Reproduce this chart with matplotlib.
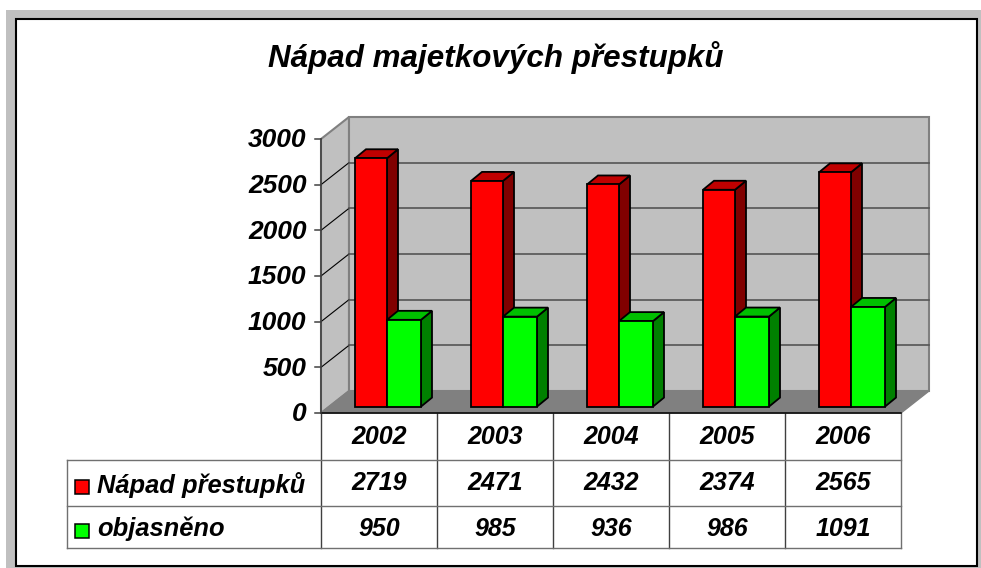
import numpy as np
import matplotlib
matplotlib.use("Agg")
import matplotlib.pyplot as plt
from matplotlib.patches import Polygon, Rectangle

roky = ["2002", "2003", "2004", "2005", "2006"]
napad = [2719, 2471, 2432, 2374, 2565]
objasneno = [950, 985, 936, 986, 1091]
osa_y = [0, 500, 1000, 1500, 2000, 2500, 3000]
nazvy = ["Nápad přestupků", "objasněno"]

W, H = 981, 568
plt.rcParams["font.family"] = ["Liberation Sans", "DejaVu Sans"]
plt.rcParams["font.weight"] = "bold"
plt.rcParams["font.style"] = "italic"

fig = plt.figure(figsize=(W / 100, H / 100), dpi=100, facecolor="white")

# pozadi v pixelech
bg = fig.add_axes([0, 0, 1, 1])
bg.set_xlim(0, W)
bg.set_ylim(H, 0)
bg.axis("off")
bg.add_patch(Rectangle((6, 10), 975, 570, fc="#c0c0c0", ec="none"))
bg.add_patch(Rectangle((16, 19), 960.5, 547, fc="white", ec="black", lw=1.5))

# predni rovina grafu: x 321-901, y 139-413 px
ax = fig.add_axes([321 / W, 1 - 413 / H, 580 / W, 274 / H])
ax.set_xlim(0, 5)
ax.set_ylim(0, 3000)
ax.axis("off")
ax.patch.set_alpha(0)

hl_x = 28 / 116   # hloubka podlahy
hl_y = 22 / 274 * 3000
grey_edge = "#808080"


def poly(pts, **kw):
    p = Polygon(pts, closed=True, clip_on=False, **kw)
    ax.add_patch(p)


poly([(0, 0), (hl_x, hl_y), (hl_x, 3000 + hl_y), (0, 3000)], fc="#c0c0c0", ec=grey_edge, lw=1.5, zorder=1)
poly([(hl_x, hl_y), (5 + hl_x, hl_y), (5 + hl_x, 3000 + hl_y), (hl_x, 3000 + hl_y)],
     fc="#c0c0c0", ec=grey_edge, lw=1.5, zorder=1)
poly([(0, 0), (5, 0), (5 + hl_x, hl_y), (hl_x, hl_y)], fc="#808080", ec=grey_edge, lw=1, zorder=2)

for v in osa_y[1:-1]:
    ax.plot([0, hl_x], [v, v + hl_y], color="black", lw=0.8, clip_on=False, zorder=3)
    ax.plot([hl_x, 5 + hl_x], [v + hl_y, v + hl_y], color="#555555", lw=1.2, clip_on=False, zorder=3)
ax.plot([0, 0], [0, 3000], color="#404040", lw=1.1, clip_on=False, zorder=4)
ax.plot([0, 5], [0, 0], color="black", lw=1.1, clip_on=False, zorder=4)
for v in osa_y:
    ax.plot([-6 / 116, 0], [v, v], color="#404040", lw=1.1, clip_on=False, zorder=4)
    ax.annotate(str(v), (0, v), xytext=(-10.5, -1), textcoords="offset points",
                ha="right", va="center", fontsize=19, zorder=5, annotation_clip=False)


def sloupec(x0, x1, val, c_front, c_top, c_side):
    # kvadr sloupce, posunuty do poloviny hloubky
    sx = 9 / 116
    sy = 6.4 / 274 * 3000
    dx = 11 / 116
    dy = 9 / 274 * 3000
    x0 += sx
    x1 += sx
    t = val + sy
    poly([(x1, sy), (x1 + dx, sy + dy), (x1 + dx, t + dy), (x1, t)], fc=c_side, ec="black", lw=1.3, zorder=6)
    poly([(x0, t), (x1, t), (x1 + dx, t + dy), (x0 + dx, t + dy)], fc=c_top, ec="black", lw=1.3, zorder=6)
    poly([(x0, sy), (x1, sy), (x1, t), (x0, t)], fc=c_front, ec="black", lw=1.3, zorder=6)


for i in range(len(roky)):
    sloupec(i + 25 / 116, i + 57 / 116, napad[i], "#ff0000", "#c00000", "#800000")
    sloupec(i + 57 / 116, i + 91 / 116, objasneno[i], "#00ff00", "#00c000", "#008000")

# titulek
bg.text(495.5, 58, "Nápad majetkových přestupků", ha="center", va="center", fontsize=22.6)

# tabulka
sloupce = [321 + 116 * i for i in range(6)]
radky = [413, 460, 506, 548]
tc = "#707070"
for x in sloupce:
    bg.plot([x, x], [radky[0], radky[-1]], color="#404040" if x < 901 else tc, lw=1.0)
for y in radky[1:]:
    bg.plot([67, 901], [y, y], color=tc, lw=1.0)
bg.plot([67, 67], [radky[1], radky[-1]], color=tc, lw=1.0)

rady = [roky, napad, objasneno]
for r, vals in enumerate(rady):
    yc = (radky[r] + radky[r + 1]) / 2 + (1.5 if r == 2 else 0)
    for i, v in enumerate(vals):
        bg.text(sloupce[i] + 58, yc, str(v), ha="center", va="center", fontsize=18)

for r, (nazev, barva) in enumerate(zip(nazvy, ["#ff0000", "#00ff00"])):
    yc = (radky[r + 1] + radky[r + 2]) / 2
    bg.add_patch(Rectangle((75, yc - 3.5), 14, 14, fc=barva, ec="black", lw=1.1))
    bg.text(97, yc + 2, nazev, ha="left", va="center", fontsize=18.4)

fig.savefig("out.png", dpi=100, facecolor="white")
